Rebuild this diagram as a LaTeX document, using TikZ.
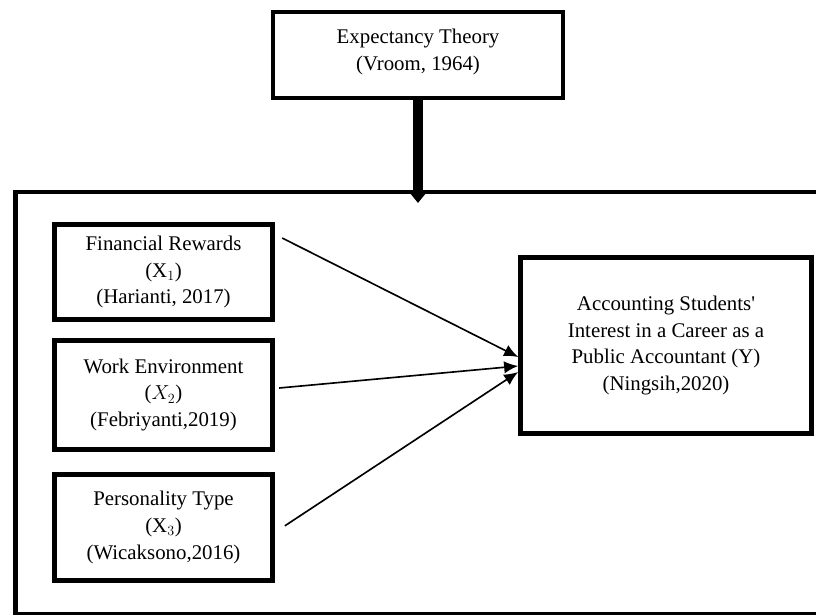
\documentclass[tikz,border=0pt]{standalone}
\usepackage{fontspec}
\setmainfont{Liberation Serif}
\usepackage{tikz}
\usetikzlibrary{arrows.meta, positioning}
\tikzstyle{theory} = [rectangle, minimum width=8.7cm, minimum height=2.58cm, text centered, align=center, draw=black, line width=0.12cm]
\tikzstyle{factor} = [rectangle, minimum width=6.55cm, text centered, align=center, draw=black, line width=0.15cm]
\tikzstyle{result} = [rectangle, minimum width=8.73cm, minimum height=5.28cm, text centered, align=center, draw=black, line width=0.14cm]
\tikzstyle{frame} = [rectangle, minimum width=24.2cm, minimum height=12.66cm, draw=black, line width=0.14cm]
\tikzstyle{arrow} = [-{Latex[length=12pt, width=10.5pt]}, line width=1.4pt]
\tikzstyle{bigarrow} = [-{Triangle[length=10pt, width=15.5pt]}, line width=8.5pt]

\begin{document}
\begin{tikzpicture}[x=0.03cm, y=-0.03cm, font=\fontsize{17.8pt}{23pt}\selectfont, node distance=0.48cm]
	\useasboundingbox (0,0) rectangle (816,614);
	\clip (0,0) rectangle (816,614);
	\node (theory) [theory] at (418,55) {Expectancy Theory\\(Vroom, 1964)\\[-0.5cm]};
	\node (frame) [frame] at (418.75,403) {};
	\node (fin) [factor, minimum height=2.85cm] at (163.5,272) {Financial Rewards\\(X$_1$)\\(Harianti, 2017)};
	\node (work) [factor, minimum height=3.27cm, below=of fin] {Work Environment\\($X_2$)\\(Febriyanti,2019)};
	\node (pers) [factor, minimum height=3.18cm, below=0.6cm of work] {Personality Type\\(X$_3$)\\(Wicaksono,2016)};
	\node (interest) [result] at (666,345.5) {Accounting Students\textquotesingle\\Interest in a Career as a\\Public Accountant (Y)\\(Ningsih,2020)};
	
	\draw [bigarrow](theory.south) -- ([yshift=-0.4cm]theory.south |- frame.north);
	\draw [arrow]([xshift=0.21cm, yshift=1.02cm]fin.east) -- ([yshift=-0.345cm]interest.west);
	\draw [arrow]([xshift=0.12cm, yshift=0.21cm]work.east) -- ([yshift=-0.615cm]interest.west);
	\draw [arrow]([xshift=0.29cm, yshift=0.05cm]pers.east) -- ([yshift=-0.795cm]interest.west);
\end{tikzpicture}
\end{document}
